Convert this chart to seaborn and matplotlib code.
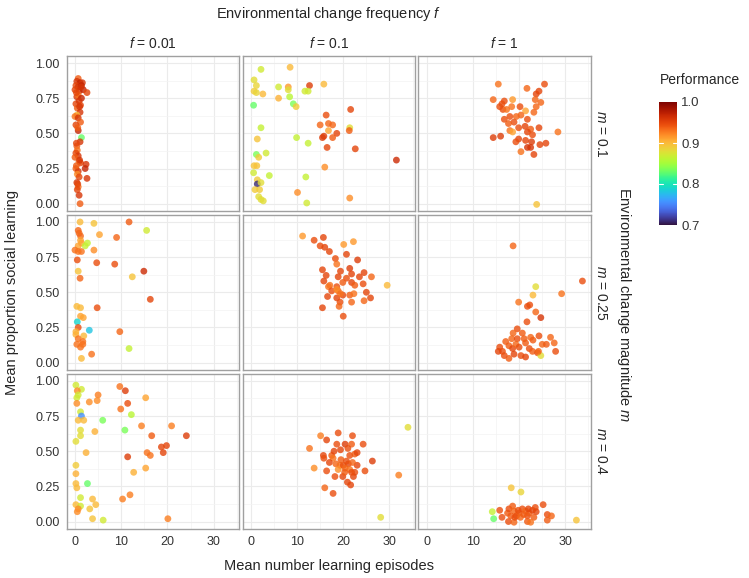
import matplotlib
matplotlib.use("Agg")
import matplotlib.pyplot as plt
import matplotlib as mpl
from matplotlib.ticker import MultipleLocator, FixedLocator
import pandas as pd
import seaborn as sns

# facet levels
f_levels = ["0.01", "0.1", "1"]
m_levels = ["0.1", "0.25", "0.4"]

# f = 0.01, m = 0.1
x_f001_m01 = [0.7, 0.4, 1.1, 1.6, 0.2, 0.7, 1.4, 0.0, 0.9, 1.8, 2.6, 0.4, 0.7, 1.4, 0.2, 0.9, 1.2, 0.5, 1.1, 0.4,
              0.0, 0.7, 1.2, 0.2, 0.7, 1.4, 1.1, 0.4, 0.5, 0.2, 0.7, 0.0, 0.9, 1.2, 2.4, 2.2, 0.2, 0.7, 0.5, 0.9,
              2.6, 0.4, 0.7, 0.5, 0.9, 1.1, 0.3, 1.0, 0.6, 0.3, 1.0, 0.3, 0.6, 1.3]
y_f001_m01 = [0.89, 0.87, 0.86, 0.86, 0.84, 0.83, 0.84, 0.81, 0.80, 0.81, 0.79, 0.76, 0.77, 0.75, 0.71, 0.73, 0.70, 0.68, 0.65, 0.63,
              0.62, 0.61, 0.58, 0.56, 0.52, 0.47, 0.44, 0.41, 0.38, 0.36, 0.34, 0.33, 0.30, 0.29, 0.28, 0.25, 0.25, 0.23, 0.21, 0.19,
              0.18, 0.15, 0.12, 0.10, 0.06, 0.00, 0.79, 0.69, 0.54, 0.43, 0.31, 0.27, 0.14, 0.83]
p_f001_m01 = [0.94, 0.96, 0.97, 0.96, 0.95, 0.96, 0.97, 0.95, 0.96, 0.97, 0.95, 0.96, 0.93, 0.97, 0.95, 0.96, 0.95, 0.94, 0.96, 0.90,
              0.93, 0.96, 0.94, 0.95, 0.97, 0.83, 0.96, 0.94, 0.93, 0.95, 0.96, 0.94, 0.93, 0.95, 0.96, 0.97, 0.94, 0.96, 0.92, 0.95,
              0.96, 0.96, 0.93, 0.95, 0.96, 0.94, 0.95, 0.96, 0.94, 0.95, 0.96, 0.94, 0.95, 0.96]

# f = 0.1, m = 0.1
x_f01_m01 = [2.2, 8.5, 0.7, 1.2, 0.7, 1.2, 2.6, 6.0, 8.1, 8.1, 12.7, 11.7, 12.4, 15.8, 6.0, 8.4, 0.6, 9.2, 9.8, 21.6,
             16.3, 15.0, 16.8, 17.7, 16.8, 21.4, 21.3, 18.6, 15.5, 15.8, 17.7, 16.5, 22.6, 31.5, 2.2, 1.4, 9.9, 12.4, 3.3, 1.2,
             1.7, 16.0, 0.7, 1.3, 0.6, 4.0, 11.9, 1.4, 1.4, 2.2, 0.9, 1.9, 1.7, 2.2, 2.7, 10.1, 12.1, 21.4]
y_f01_m01 = [0.955, 0.97, 0.88, 0.84, 0.80, 0.79, 0.78, 0.83, 0.83, 0.81, 0.84, 0.80, 0.80, 0.85, 0.75, 0.76, 0.70, 0.71, 0.69, 0.67,
             0.63, 0.56, 0.57, 0.56, 0.52, 0.54, 0.52, 0.50, 0.47, 0.48, 0.47, 0.40, 0.39, 0.31, 0.54, 0.46, 0.47, 0.43, 0.36, 0.35,
             0.33, 0.26, 0.27, 0.27, 0.22, 0.20, 0.19, 0.17, 0.14, 0.15, 0.10, 0.10, 0.05, 0.03, 0.02, 0.08, 0.005, 0.04]
p_f01_m01 = [0.87, 0.90, 0.88, 0.885, 0.89, 0.885, 0.90, 0.87, 0.915, 0.88, 0.955, 0.87, 0.87, 0.90, 0.905, 0.86, 0.83, 0.835, 0.89, 0.95,
             0.945, 0.935, 0.935, 0.935, 0.91, 0.88, 0.94, 0.95, 0.955, 0.955, 0.94, 0.95, 0.95, 0.965, 0.865, 0.895, 0.865, 0.865, 0.87, 0.835,
             0.89, 0.92, 0.895, 0.895, 0.87, 0.865, 0.865, 0.89, 0.71, 0.88, 0.89, 0.89, 0.88, 0.88, 0.88, 0.92, 0.87, 0.92]

# f = 1, m = 0.1
x_f1_m01 = [15.5, 21.7, 25.5, 24.3, 23.7, 14.4, 16.8, 16.3, 15.8, 16.5, 18.6, 17.3, 18.4, 20.2, 23.5, 24.7, 23.7, 21.4, 20.4, 19.4,
            23.2, 18.0, 16.8, 18.9, 21.8, 17.7, 19.9, 18.0, 21.3, 22.5, 24.3, 28.4, 14.4, 16.0, 18.6, 21.8, 22.9, 19.9, 19.3, 21.4,
            22.7, 24.5, 25.8, 21.8, 22.5, 20.4, 23.2, 23.8]
y_f1_m01 = [0.85, 0.82, 0.85, 0.80, 0.78, 0.74, 0.73, 0.71, 0.69, 0.67, 0.74, 0.67, 0.69, 0.69, 0.74, 0.72, 0.69, 0.66, 0.63, 0.62,
            0.65, 0.62, 0.60, 0.58, 0.60, 0.57, 0.54, 0.52, 0.55, 0.53, 0.54, 0.51, 0.47, 0.48, 0.51, 0.51, 0.49, 0.46, 0.44, 0.45,
            0.44, 0.42, 0.43, 0.40, 0.40, 0.37, 0.35, -0.005]
p_f1_m01 = [0.93, 0.935, 0.945, 0.95, 0.95, 0.935, 0.945, 0.945, 0.945, 0.945, 0.915, 0.93, 0.93, 0.945, 0.935, 0.935, 0.935, 0.91, 0.935, 0.935,
            0.935, 0.945, 0.945, 0.945, 0.945, 0.94, 0.945, 0.93, 0.95, 0.94, 0.95, 0.93, 0.955, 0.955, 0.91, 0.95, 0.945, 0.95, 0.945, 0.95,
            0.955, 0.95, 0.95, 0.96, 0.96, 0.93, 0.95, 0.895]

# f = 0.01, m = 0.25
x_f001_m025 = [1.1, 4.1, 11.7, 15.5, 0.7, 0.9, 1.2, 5.3, 9.0, 1.2, 1.4, 0.7, 2.7, 2.2, 0.0, 0.7, 1.4, 4.1, 0.5, 4.7,
               8.6, 14.9, 12.4, 0.7, 1.1, 16.3, 0.4, 1.2, 4.8, 1.2, 1.8, 0.5, 3.1, 0.7, 0.2, 0.2, 1.9, 0.7, 1.7, 0.4,
               1.2, 1.7, 9.7, 11.7, 3.6, 1.4]
y_f001_m025 = [1.0, 0.99, 1.0, 0.94, 0.94, 0.92, 0.90, 0.91, 0.89, 0.87, 0.85, 0.83, 0.85, 0.83, 0.80, 0.79, 0.79, 0.80, 0.73, 0.71,
               0.70, 0.65, 0.61, 0.65, 0.60, 0.45, 0.40, 0.39, 0.39, 0.33, 0.32, 0.29, 0.23, 0.25, 0.22, 0.20, 0.19, 0.17, 0.15, 0.13,
               0.11, 0.13, 0.22, 0.10, 0.06, 0.03]
p_f001_m025 = [0.90, 0.895, 0.94, 0.87, 0.935, 0.935, 0.935, 0.91, 0.935, 0.91, 0.91, 0.91, 0.865, 0.865, 0.93, 0.93, 0.93, 0.92, 0.945, 0.945,
               0.945, 0.965, 0.895, 0.895, 0.935, 0.95, 0.90, 0.90, 0.945, 0.91, 0.91, 0.79, 0.78, 0.945, 0.905, 0.905, 0.90, 0.93, 0.93, 0.93,
               0.93, 0.93, 0.935, 0.865, 0.93, 0.90]

# f = 0.1, m = 0.25
x_f01_m025 = [11.2, 13.7, 15.7, 15.0, 16.0, 17.0, 20.1, 22.2, 20.7, 23.1, 18.3, 18.6, 15.5, 19.4, 21.4, 16.3, 18.9, 20.7, 21.8, 24.5,
              26.1, 23.5, 15.8, 17.1, 18.6, 19.9, 21.8, 22.5, 24.3, 16.8, 29.5, 17.5, 18.9, 19.9, 21.4, 22.3, 16.6, 18.6, 19.3, 21.8,
              25.0, 25.9, 19.1, 24.5, 15.5, 20.0, 18.6, 19.4]
y_f01_m025 = [0.90, 0.87, 0.89, 0.83, 0.82, 0.79, 0.84, 0.86, 0.77, 0.73, 0.74, 0.70, 0.66, 0.65, 0.67, 0.62, 0.61, 0.60, 0.63, 0.64,
              0.61, 0.61, 0.58, 0.55, 0.54, 0.57, 0.57, 0.55, 0.56, 0.54, 0.55, 0.51, 0.51, 0.48, 0.48, 0.49, 0.47, 0.46, 0.43, 0.43,
              0.50, 0.46, 0.40, 0.44, 0.39, 0.33, 0.52, 0.49]
p_f01_m025 = [0.915, 0.945, 0.95, 0.945, 0.95, 0.95, 0.915, 0.915, 0.95, 0.955, 0.945, 0.93, 0.95, 0.95, 0.955, 0.95, 0.95, 0.945, 0.95, 0.95,
              0.935, 0.95, 0.95, 0.93, 0.945, 0.94, 0.95, 0.94, 0.945, 0.93, 0.90, 0.945, 0.935, 0.95, 0.94, 0.93, 0.95, 0.95, 0.945, 0.935,
              0.95, 0.95, 0.935, 0.935, 0.95, 0.945, 0.92, 0.93]

# f = 1, m = 0.25
x_f1_m025 = [18.7, 33.7, 23.6, 23.0, 29.2, 19.9, 21.8, 22.3, 23.6, 24.7, 21.7, 19.6, 18.7, 20.7, 17.1, 18.4, 19.6, 21.1, 22.5, 24.3,
             26.8, 23.0, 15.8, 16.4, 17.8, 18.6, 19.3, 20.0, 21.4, 22.2, 15.5, 16.8, 17.8, 18.9, 20.4, 21.4, 22.9, 24.0, 25.0, 25.9,
             27.6, 27.9, 24.7, 24.2]
y_f1_m025 = [0.83, 0.58, 0.54, 0.48, 0.49, 0.43, 0.40, 0.41, 0.36, 0.32, 0.29, 0.24, 0.21, 0.21, 0.15, 0.17, 0.17, 0.17, 0.18, 0.19,
             0.18, 0.16, 0.11, 0.08, 0.12, 0.10, 0.13, 0.11, 0.14, 0.10, 0.08, 0.05, 0.03, 0.06, 0.05, 0.04, 0.08, 0.07, 0.13, 0.13,
             0.14, 0.08, 0.05, 0.08]
p_f1_m025 = [0.935, 0.945, 0.88, 0.90, 0.93, 0.93, 0.945, 0.945, 0.935, 0.96, 0.945, 0.945, 0.935, 0.94, 0.94, 0.935, 0.945, 0.94, 0.935, 0.945,
             0.935, 0.94, 0.945, 0.945, 0.94, 0.95, 0.935, 0.945, 0.94, 0.945, 0.95, 0.945, 0.94, 0.95, 0.945, 0.95, 0.94, 0.945, 0.935, 0.94,
             0.935, 0.945, 0.88, 0.935]

# f = 0.01, m = 0.4
x_f001_m04 = [0.2, 1.4, 0.5, 0.7, 0.4, 0.4, 9.7, 10.9, 5.0, 4.8, 3.1, 11.4, 9.9, 15.3, 1.2, 12.2, 1.4, 0.7, 1.9, 6.0,
              10.8, 1.2, 1.2, 4.3, 14.4, 20.9, 16.6, 24.1, 0.2, 2.4, 18.7, 19.8, 19.1, 15.6, 16.3, 11.4, 0.2, 15.3, 12.7, 0.2,
              0.2, 0.4, 2.7, 1.2, 3.8, 10.3, 11.9, 0.2, 1.2, 4.5, 0.7, 0.5, 3.2, 3.8, 6.1, 20.1]
y_f001_m04 = [0.97, 0.94, 0.93, 0.90, 0.88, 0.84, 0.96, 0.93, 0.90, 0.86, 0.85, 0.84, 0.80, 0.88, 0.78, 0.76, 0.75, 0.72, 0.72, 0.72,
              0.65, 0.65, 0.61, 0.64, 0.68, 0.68, 0.61, 0.61, 0.57, 0.49, 0.53, 0.54, 0.49, 0.49, 0.47, 0.46, 0.40, 0.38, 0.35, 0.34,
              0.27, 0.24, 0.27, 0.17, 0.16, 0.16, 0.19, 0.12, 0.11, 0.12, 0.09, 0.07, 0.09, 0.02, 0.01, 0.02]
p_f001_m04 = [0.87, 0.87, 0.92, 0.87, 0.87, 0.92, 0.93, 0.955, 0.925, 0.92, 0.92, 0.945, 0.93, 0.91, 0.87, 0.86, 0.755, 0.90, 0.90, 0.835,
              0.835, 0.88, 0.88, 0.905, 0.925, 0.925, 0.94, 0.955, 0.88, 0.905, 0.95, 0.95, 0.95, 0.93, 0.93, 0.955, 0.89, 0.91, 0.905, 0.905,
              0.90, 0.90, 0.83, 0.87, 0.90, 0.925, 0.925, 0.90, 0.87, 0.90, 0.92, 0.92, 0.895, 0.895, 0.87, 0.925]

# f = 0.1, m = 0.4
x_f01_m04 = [34.0, 18.9, 15.1, 22.0, 16.4, 18.6, 20.4, 21.8, 19.4, 12.7, 24.3, 15.7, 15.8, 17.5, 17.8, 21.4, 22.5, 23.0, 26.3, 13.7,
             16.4, 18.4, 19.3, 20.0, 21.1, 18.9, 20.4, 21.4, 23.0, 22.5, 22.2, 18.2, 19.9, 21.8, 24.7, 20.9, 21.6, 16.0, 17.8, 32.0,
             28.1, 19.5, 20.7, 17.0, 22.0, 20.3, 18.0, 21.0]
y_f01_m04 = [0.67, 0.63, 0.61, 0.61, 0.58, 0.55, 0.55, 0.55, 0.51, 0.52, 0.55, 0.47, 0.45, 0.47, 0.45, 0.47, 0.48, 0.49, 0.43, 0.38,
             0.36, 0.41, 0.40, 0.40, 0.41, 0.37, 0.38, 0.37, 0.40, 0.35, 0.32, 0.32, 0.32, 0.35, 0.36, 0.28, 0.26, 0.24, 0.20, 0.33,
             0.03, 0.44, 0.43, 0.42, 0.42, 0.35, 0.50, 0.52]
p_f01_m04 = [0.88, 0.945, 0.925, 0.945, 0.95, 0.945, 0.955, 0.94, 0.95, 0.93, 0.945, 0.95, 0.945, 0.94, 0.93, 0.945, 0.94, 0.95, 0.955, 0.92,
             0.945, 0.935, 0.93, 0.945, 0.95, 0.92, 0.935, 0.93, 0.95, 0.945, 0.95, 0.945, 0.95, 0.945, 0.945, 0.95, 0.95, 0.935, 0.945, 0.925,
             0.88, 0.94, 0.945, 0.95, 0.935, 0.94, 0.95, 0.945]

# f = 1, m = 0.4
x_f1_m04 = [18.3, 20.4, 25.2, 15.8, 16.3, 14.2, 14.5, 17.5, 17.8, 18.6, 18.9, 19.4, 20.0, 20.7, 21.4, 21.8, 22.2, 22.9, 23.5, 23.7,
            23.2, 17.7, 18.9, 21.8, 22.5, 26.1, 27.0, 26.1, 32.4, 18.2, 19.1, 20.3, 21.0, 19.8, 22.0]
y_f1_m04 = [0.24, 0.21, 0.12, 0.08, 0.03, 0.07, 0.02, 0.06, 0.09, 0.11, 0.075, 0.04, 0.06, 0.09, 0.075, 0.04, 0.06, 0.08, 0.10, 0.07,
            0.03, 0.0, -0.005, 0.0, -0.005, 0.05, 0.04, 0.01, 0.01, 0.04, 0.03, 0.03, 0.05, 0.08, 0.09]
p_f1_m04 = [0.895, 0.885, 0.945, 0.945, 0.945, 0.865, 0.83, 0.94, 0.945, 0.94, 0.935, 0.945, 0.94, 0.945, 0.935, 0.945, 0.94, 0.95, 0.945, 0.95,
            0.94, 0.945, 0.935, 0.94, 0.93, 0.945, 0.935, 0.94, 0.895, 0.94, 0.945, 0.935, 0.94, 0.945, 0.95]

panels = [
    ("0.01", "0.1", x_f001_m01, y_f001_m01, p_f001_m01),
    ("0.1", "0.1", x_f01_m01, y_f01_m01, p_f01_m01),
    ("1", "0.1", x_f1_m01, y_f1_m01, p_f1_m01),
    ("0.01", "0.25", x_f001_m025, y_f001_m025, p_f001_m025),
    ("0.1", "0.25", x_f01_m025, y_f01_m025, p_f01_m025),
    ("1", "0.25", x_f1_m025, y_f1_m025, p_f1_m025),
    ("0.01", "0.4", x_f001_m04, y_f001_m04, p_f001_m04),
    ("0.1", "0.4", x_f01_m04, y_f01_m04, p_f01_m04),
    ("1", "0.4", x_f1_m04, y_f1_m04, p_f1_m04),
]
df = pd.concat([pd.DataFrame({"episodes": x, "social": y, "performance": p, "f": f, "m": m})
                for f, m, x, y, p in panels], ignore_index=True)

sns.set_style("white")
plt.rcParams["font.family"] = ["Liberation Sans", "DejaVu Sans"]
plt.rcParams["mathtext.fontset"] = "custom"
plt.rcParams["mathtext.rm"] = "Liberation Sans"
plt.rcParams["mathtext.it"] = "Liberation Sans:italic"

g = sns.relplot(data=df, x="episodes", y="social", hue="performance", col="f", row="m",
                col_order=f_levels, row_order=m_levels, palette="turbo", hue_norm=(0.7, 1.0),
                legend=False, s=24, alpha=0.8, edgecolor="none", height=2, aspect=1.1,
                facet_kws=dict(margin_titles=True))
fig = g.figure
fig.set_size_inches(7.49, 5.78)
fig.subplots_adjust(left=0.089, right=0.7887, top=0.9031, bottom=0.0843, wspace=0.02, hspace=0.0225)

g.set_titles(col_template="$f$ = {col_name}", row_template="$m$ = {row_name}", size=10)
g.set_axis_labels("", "")

for i, row in enumerate(g.axes):
    for j, ax in enumerate(row):
        ax.set_xlim(-1.8, 35.5)
        ax.set_ylim(-0.055, 1.05)
        ax.xaxis.set_major_locator(FixedLocator([0, 10, 20, 30]))
        ax.xaxis.set_minor_locator(MultipleLocator(5))
        ax.yaxis.set_major_locator(FixedLocator([0, 0.25, 0.5, 0.75, 1.0]))
        ax.yaxis.set_minor_locator(MultipleLocator(0.125))
        ax.set_axisbelow(True)
        ax.grid(which="major", color="#EBEBEB", lw=0.8)
        ax.grid(which="minor", color="#F3F3F3", lw=0.5)
        for sp in ax.spines.values():
            sp.set_visible(True)
            sp.set_color("#A0A0A0")
            sp.set_linewidth(1.0)
        ax.tick_params(which="minor", length=0)
        ax.tick_params(which="major", length=3, width=0.8, color="#333333",
                       labelsize=9, labelcolor="#333333", pad=2)
        if j == 0:
            ax.set_yticklabels(["0.00", "0.25", "0.50", "0.75", "1.00"])
        else:
            ax.tick_params(axis="y", length=0)
        if i != 2:
            ax.tick_params(axis="x", length=0)

fig.text(328.7 / 749, 1 - 14 / 578, "Environmental change frequency $f$", ha="center", va="center", fontsize=10.5)
fig.text(328.7 / 749, 1 - 566 / 578, "Mean number learning episodes", ha="center", va="center", fontsize=10.5)
fig.text(12 / 749, 1 - 292.6 / 578, "Mean proportion social learning", ha="center", va="center",
         rotation=90, fontsize=10.5)
fig.text(624 / 749, 1 - 305 / 578, "Environmental change magnitude $m$", ha="center", va="center",
         rotation=270, fontsize=10.5)

# colourbar
sm = mpl.cm.ScalarMappable(norm=mpl.colors.Normalize(0.7, 1.0), cmap="turbo")
cax = fig.add_axes([659 / 749, 1 - 225 / 578, 18 / 749, 123 / 578])
cb = fig.colorbar(sm, cax=cax, ticks=[0.7, 0.8, 0.9, 1.0])
cb.outline.set_visible(False)
cax.set_yticklabels(["0.7", "0.8", "0.9", "1.0"])
cax.tick_params(length=0, labelsize=9.5, labelcolor="#333333", pad=3)
for v in [0.8, 0.9]:
    cax.axhline(v, xmin=0, xmax=0.2, color="white", lw=0.8)
    cax.axhline(v, xmin=0.8, xmax=1.0, color="white", lw=0.8)
fig.text(700 / 749, 1 - 80 / 578, "Performance", ha="center", va="center", fontsize=10)

fig.savefig("out.png", dpi=100)
